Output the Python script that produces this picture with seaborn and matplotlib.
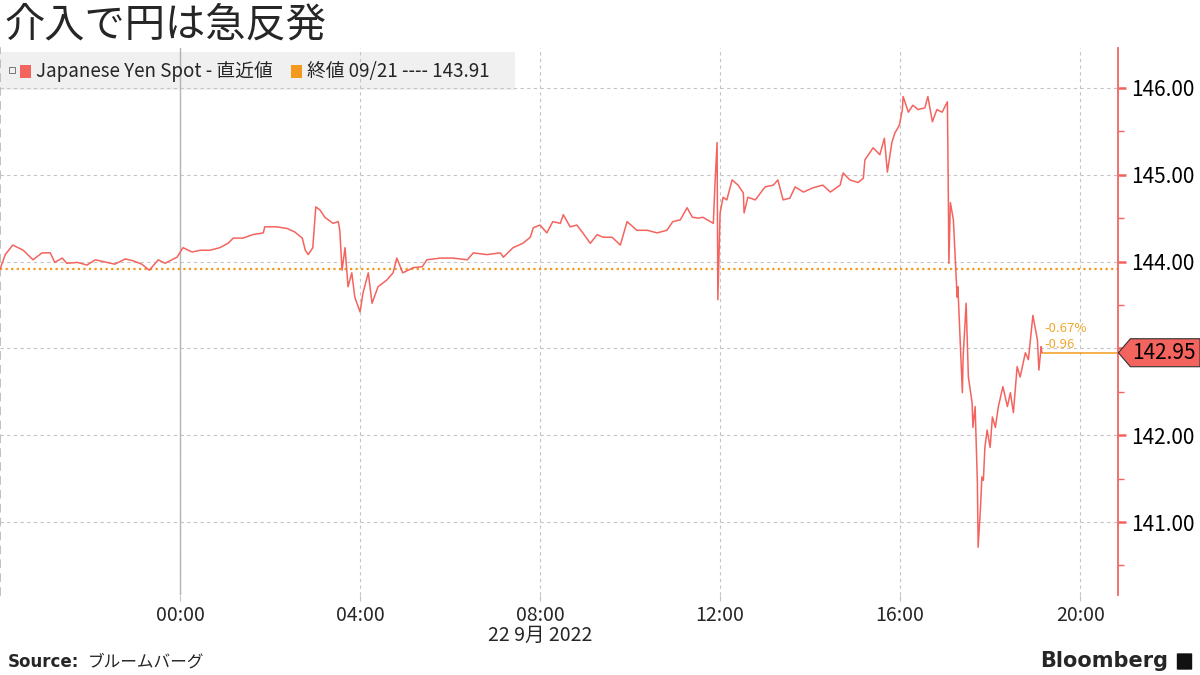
import pandas as pd
import matplotlib.pyplot as plt
import matplotlib.dates as mdates
from matplotlib.patches import Rectangle, FancyBboxPatch, Polygon
from matplotlib.ticker import FixedLocator, FuncFormatter
import seaborn as sb

# minutes from 00:00 on 22 Sep 2022 (negative = evening of 21 Sep)
minutes = [-240, -233, -223, -209, -196, -184, -173, -167, -157, -151, -137, -124,
           -113, -97, -87, -73, -63, -51, -41, -29, -20, -11, -4, 4, 16, 27, 40, 53,
           64, 71, 84, 97, 111, 113, 129, 143, 153, 163, 167, 171, 177, 181, 187, 193,
           204, 211, 213, 216, 220, 224, 229, 233, 240, 244, 251, 256, 264, 276, 284,
           289, 297, 311, 323, 329, 347, 364, 383, 391, 409, 427, 431, 444, 457, 467,
           471, 480, 489, 497, 507, 511, 520, 529, 537, 547, 556, 564, 576, 587, 596,
           609, 623, 636, 649, 657, 667, 676, 683, 691, 697, 711, 713, 716, 717, 720,
           724, 729, 736, 744, 751, 752, 757, 767, 780, 791, 797, 804, 813, 820, 831,
           844, 857, 867, 880, 884, 893, 904, 911, 913, 924, 933, 939, 943, 949, 953,
           959, 963, 964, 971, 977, 984, 993, 997, 1003, 1009, 1016, 1023, 1024, 1025,
           1027, 1031, 1033, 1036, 1037, 1040, 1043, 1044, 1048, 1051, 1056, 1057,
           1060, 1063, 1064, 1067, 1069, 1071, 1073, 1076, 1080, 1083, 1087, 1091,
           1097, 1103, 1107, 1111, 1116, 1120, 1127, 1131, 1137, 1143, 1145, 1148, 1149]
prices = [143.91, 144.08, 144.19, 144.13, 144.02, 144.10, 144.10, 143.99, 144.04, 143.98,
          143.99, 143.96, 144.02, 143.99, 143.97, 144.03, 144.01, 143.97, 143.90, 144.02,
          143.98, 144.02, 144.05, 144.16, 144.11, 144.13, 144.13, 144.16, 144.21, 144.27,
          144.27, 144.31, 144.33, 144.40, 144.40, 144.38, 144.34, 144.27, 144.13, 144.08,
          144.16, 144.63, 144.59, 144.51, 144.44, 144.46, 144.36, 143.90, 144.16, 143.71,
          143.87, 143.59, 143.42, 143.64, 143.87, 143.52, 143.71, 143.79, 143.87, 144.04,
          143.87, 143.93, 143.94, 144.02, 144.04, 144.04, 144.02, 144.10, 144.08, 144.10,
          144.05, 144.16, 144.21, 144.28, 144.39, 144.42, 144.33, 144.46, 144.44, 144.54,
          144.40, 144.42, 144.33, 144.21, 144.31, 144.28, 144.28, 144.19, 144.46, 144.36,
          144.36, 144.33, 144.36, 144.46, 144.48, 144.62, 144.51, 144.50, 144.51, 144.44,
          144.86, 145.37, 143.56, 144.56, 144.74, 144.71, 144.94, 144.88, 144.79, 144.56,
          144.74, 144.71, 144.86, 144.88, 144.94, 144.71, 144.73, 144.86, 144.80, 144.85,
          144.88, 144.80, 144.88, 145.02, 144.94, 144.91, 144.96, 145.17, 145.31, 145.23,
          145.42, 145.03, 145.37, 145.48, 145.57, 145.75, 145.90, 145.72, 145.80, 145.75,
          145.77, 145.90, 145.61, 145.75, 145.72, 145.84, 145.02, 143.98, 144.68, 144.48,
          144.13, 143.59, 143.71, 143.10, 142.49, 142.90, 143.52, 142.67, 142.37, 142.09,
          142.33, 141.45, 140.71, 141.14, 141.52, 141.48, 141.86, 142.06, 141.86, 142.21,
          142.09, 142.33, 142.56, 142.33, 142.49, 142.26, 142.79, 142.67, 142.95, 142.87,
          143.38, 143.10, 142.75, 143.02, 142.95]
prev_close = 143.91
y_ticks = [141, 142, 143, 144, 145, 146]
x_ticks = ['00:00', '04:00', '08:00', '12:00', '16:00', '20:00']

RED = '#f4645f'
ORANGE = '#f39a1e'

sb.set_theme(style='white')
plt.rcParams['font.family'] = ['Noto Sans CJK JP', 'DejaVu Sans']

base = pd.Timestamp('2022-09-22')
df = pd.DataFrame({'time': base + pd.to_timedelta(minutes, unit='min'), 'price': prices})

fig = plt.figure(figsize=(12, 6.75), dpi=100)
ax = fig.add_axes([0.0, 0.1185, 0.932, 0.8105])

sb.lineplot(data=df, x='time', y='price', ax=ax, color=RED, lw=1.1, estimator=None, zorder=3)

x_left = base - pd.Timedelta(hours=4)
x_right = base + pd.Timedelta(hours=20, minutes=51)
ax.set_xlim(x_left, x_right)
ax.set_ylim(140.16, 146.46)

# previous close and last value lines
ax.axhline(prev_close, color=ORANGE, ls=(0, (1, 1.5)), lw=1.6, zorder=2)
last_t = df['time'].iloc[-1]
last_p = df['price'].iloc[-1]
ax.hlines(last_p, last_t, x_right, color=ORANGE, lw=1.1, zorder=2)
chg = last_p - prev_close
pct = chg / prev_close * 100
ax.annotate(f'{chg:.2f}', (last_t, last_p), xytext=(2, 1), textcoords='offset points',
            color='#f0a830', fontsize=9.5, va='bottom', ha='left')
ax.annotate(f'{pct:.2f}%', (last_t, last_p), xytext=(2, 13), textcoords='offset points',
            color='#f0a830', fontsize=9.5, va='bottom', ha='left')

# grid
ax.grid(axis='both', ls=(0, (3, 3)), color='#c4c4c4', lw=0.8)
ax.axvline(base, color='#b4b4b4', lw=1.0, zorder=0.6)

# axes / spines
for s in ['top', 'bottom']:
    ax.spines[s].set_visible(False)
ax.spines['left'].set_linestyle((0, (4, 4)))
ax.spines['left'].set_color('#b8b8b8')
ax.spines['right'].set_color(RED)
ax.spines['right'].set_linewidth(1.3)

ax.yaxis.tick_right()
ax.yaxis.set_major_locator(FixedLocator(y_ticks))
ax.yaxis.set_minor_locator(FixedLocator([t + 0.5 for t in [140] + y_ticks]))
ax.yaxis.set_major_formatter(FuncFormatter(lambda v, p: '' if round(v) == 143 else f'{v:.2f}'))
ax.tick_params(axis='y', which='major', direction='out', length=6, width=1.8,
               color=RED, labelcolor='black', labelsize=15, pad=3, right=True, left=False)
ax.tick_params(axis='y', which='minor', direction='out', length=4, width=1,
               color=RED, right=True, left=False)

tick_times = [pd.Timestamp(f'2022-09-22 {t}') for t in x_ticks]
ax.set_xticks(tick_times)
ax.xaxis.set_major_formatter(mdates.DateFormatter('%H:%M'))
ax.tick_params(axis='x', which='major', direction='out', length=4, width=0.8,
               color='#c4c4c4', labelsize=14, pad=3, bottom=True)
ax.set_xlabel('')
ax.set_ylabel('')

# last value tag (tag shape pointing at the axis)
fig.canvas.draw()
y_px = ax.transData.transform((0, last_p))[1]
fig_w, fig_h = fig.bbox.width, fig.bbox.height
x0 = ax.get_position().x1 * fig_w
h = 14
tag = [(x0, y_px), (x0 + 12, y_px + h), (fig_w, y_px + h), (fig_w, y_px - h), (x0 + 12, y_px - h)]
fig.patches.append(Polygon([(px / fig_w, py / fig_h) for px, py in tag], closed=True,
                           transform=fig.transFigure, fc=RED, ec='#333333', lw=0.8, zorder=5))
fig.text((x0 + 14) / fig_w, y_px / fig_h, f'{last_p:.2f}', fontsize=15, ha='left',
         va='center', color='black', zorder=6)

# legend strip
ax.add_patch(Rectangle((0, 1 - 90 / 675), 515 / 1200, 38 / 675, transform=fig.transFigure,
                       fc='#f0f0f0', ec='none', zorder=0.2, clip_on=False))
ax.add_patch(Rectangle((9 / 1200, 1 - 73 / 675), 6 / 1200, 6 / 675,
                       transform=fig.transFigure, fc='none', ec='#777777', lw=0.7,
                       clip_on=False, zorder=5))
ax.add_patch(Rectangle((20 / 1200, 1 - 78 / 675), 11 / 1200, 13 / 675, transform=fig.transFigure,
                       fc=RED, ec='none', clip_on=False, zorder=5))
ax.add_patch(Rectangle((291 / 1200, 1 - 78 / 675), 11 / 1200, 13 / 675, transform=fig.transFigure,
                       fc=ORANGE, ec='none', clip_on=False, zorder=5))
fig.text(36 / 1200, 1 - 71 / 675, 'Japanese Yen Spot - 直近値', fontsize=13.5, va='center', ha='left')
fig.text(307 / 1200, 1 - 71 / 675, f'終値 09/21 ---- {prev_close:.2f}', fontsize=13.5,
         va='center', ha='left')

# titles / footer
fig.text(0.004, 1 - 25 / 675, '介入で円は急反発', fontsize=29, va='center', ha='left')
fig.text(540 / 1200, 1 - 635 / 675, '22 9月 2022', fontsize=14, va='center', ha='center')
fig.text(8 / 1200, 1 - 662 / 675, 'Source:', fontsize=12, fontweight='bold',
         family='DejaVu Sans', va='center', ha='left')
fig.text(88 / 1200, 1 - 662 / 675, 'ブルームバーグ', fontsize=12, va='center', ha='left')
fig.text(1168 / 1200, 1 - 661 / 675, 'Bloomberg', fontsize=15, fontweight='bold',
         family='DejaVu Sans', va='center', ha='right')
fig.patches.append(FancyBboxPatch((1178 / 1200, 1 - 669 / 675), 13 / 1200, 15 / 675,
                                  boxstyle='round,pad=0.001', transform=fig.transFigure,
                                  fc='#111111', ec='none'))

fig.savefig('out.png', dpi=100)
